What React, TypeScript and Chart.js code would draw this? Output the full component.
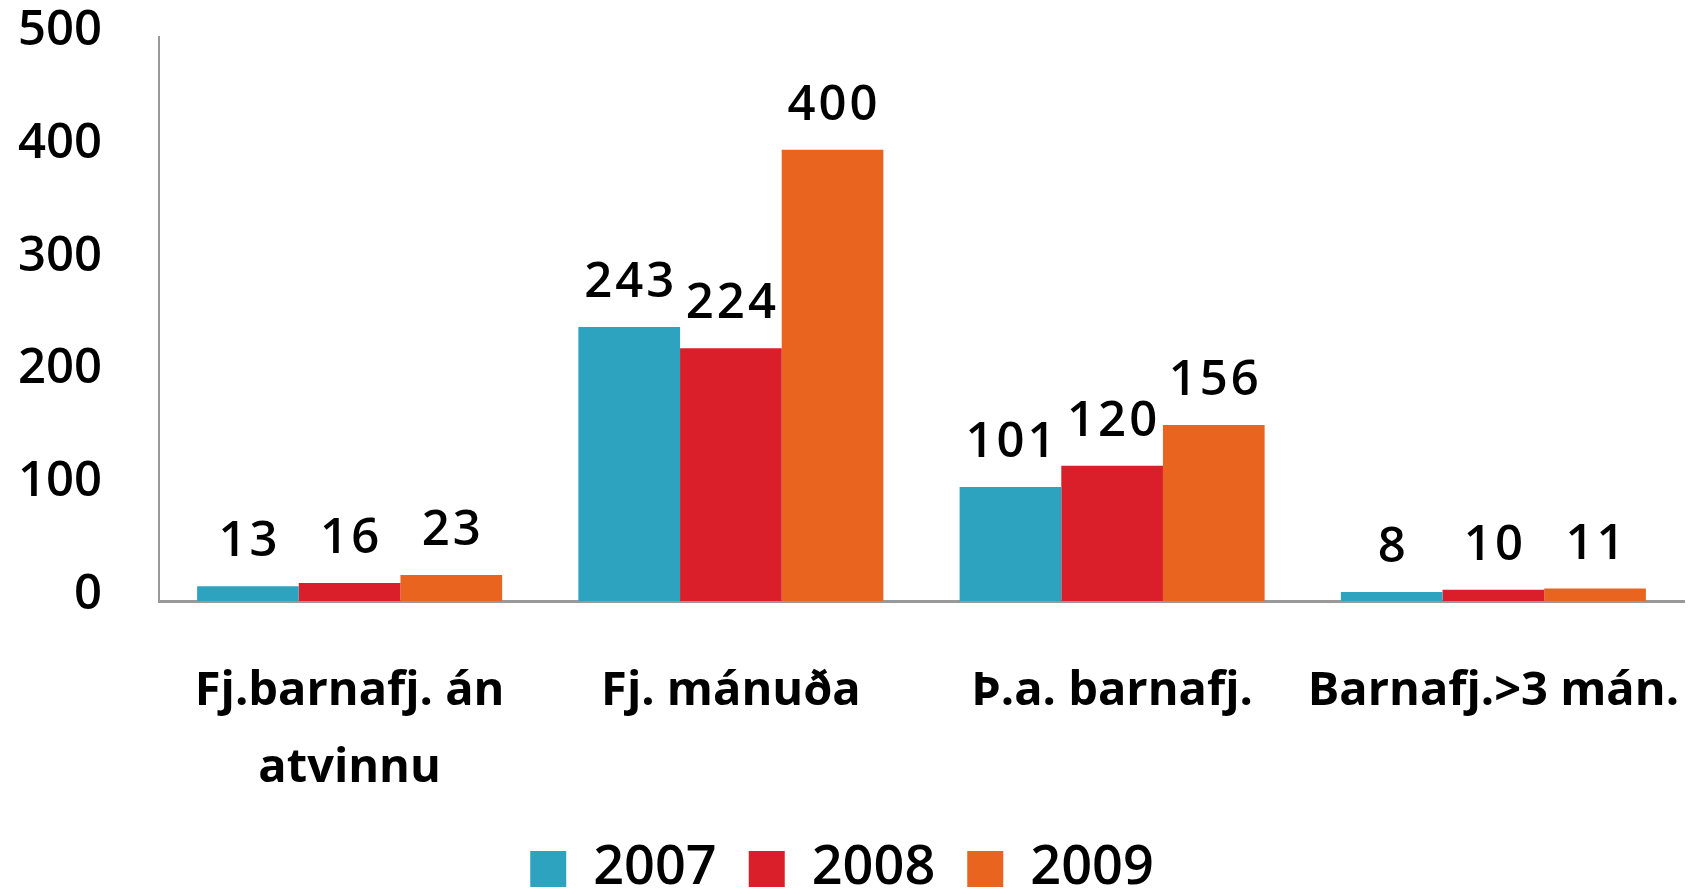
import React, { useEffect, useRef } from 'react';
import { Chart, registerables } from 'chart.js';

Chart.register(...registerables);

const categories: (string | string[])[] = [['Fj.barnafj. án', 'atvinnu'], 'Fj. mánuða', 'Þ.a. barnafj.', 'Barnafj.>3 mán.'];
const seriesNames = ['2007', '2008', '2009'];
const values2007 = [13, 243, 101, 8];
const values2008 = [16, 224, 120, 10];
const values2009 = [23, 400, 156, 11];
const seriesColors = ['#2EA3C0', '#DB1F2A', '#E9641F'];
const yMin = 0;
const yMax = 500;
const yStep = 100;

const FONT = "'Open Sans', 'Noto Sans', sans-serif";

const valueLabels = {
  id: 'valueLabels',
  afterDatasetsDraw(chart: any) {
    const ctx = chart.ctx;
    ctx.save();
    ctx.font = `600 49px ${FONT}`;
    try { (ctx as any).letterSpacing = '3px'; } catch (e) { /* ignore */ }
    ctx.fillStyle = '#000';
    ctx.textAlign = 'center';
    ctx.textBaseline = 'alphabetic';
    chart.data.datasets.forEach((ds: any, i: number) => {
      const meta = chart.getDatasetMeta(i);
      meta.data.forEach((bar: any, j: number) => {
        ctx.fillText(String(ds.data[j]), bar.x + 1.5, bar.y - 30);
      });
    });
    ctx.restore();
  },
};

export default function App() {
  const ref = useRef<HTMLCanvasElement | null>(null);
  useEffect(() => {
    if (!ref.current) return;
    const data = [values2007, values2008, values2009];
    const chart = new Chart(ref.current, {
      type: 'bar',
      data: {
        labels: categories,
        datasets: seriesNames.map((name, i) => ({
          label: name,
          data: data[i],
          backgroundColor: seriesColors[i],
          borderWidth: 0,
          categoryPercentage: 0.8,
          barPercentage: 1.0,
        })),
      },
      options: {
        animation: false,
        responsive: true,
        maintainAspectRatio: false,
        layout: { padding: { top: 37, left: 0, right: 9, bottom: -12 } },
        plugins: {
          tooltip: { enabled: false },
          legend: {
            position: 'bottom',
            labels: {
              boxWidth: 36,
              boxHeight: 36,
              padding: 32,
              color: '#000',
              font: { family: FONT, size: 54, weight: '600' },
            },
          },
        },
        scales: {
          x: {
            grid: { display: false, drawTicks: false },
            border: { display: true, color: '#999', width: 3 },
            ticks: {
              color: '#000',
              padding: 52,
              font: { family: FONT, size: 47, weight: 'bold', lineHeight: 1.64 },
              maxRotation: 0,
              autoSkip: false,
            },
            afterFit: (scale: any) => {
              scale.height = 209;
              scale.paddingLeft = 0;
              scale.paddingRight = 0;
            },
          },
          y: {
            min: yMin,
            max: yMax,
            grid: { display: false, drawTicks: false },
            border: { display: true, color: '#999', width: 2 },
            ticks: {
              stepSize: yStep,
              color: '#000',
              padding: 57,
              labelOffset: -6,
              font: { family: FONT, size: 49, weight: '600' },
            },
            afterFit: (scale: any) => {
              scale.width = 159;
              scale.paddingTop = 0;
              scale.paddingBottom = 0;
            },
          },
        },
      },
      plugins: [valueLabels],
    });
    return () => chart.destroy();
  }, []);
  return (
    <div style={{ position: 'fixed', left: 0, top: 0, width: 1693, height: 894, background: '#fff' }}>
      <canvas ref={ref} />
    </div>
  );
}
